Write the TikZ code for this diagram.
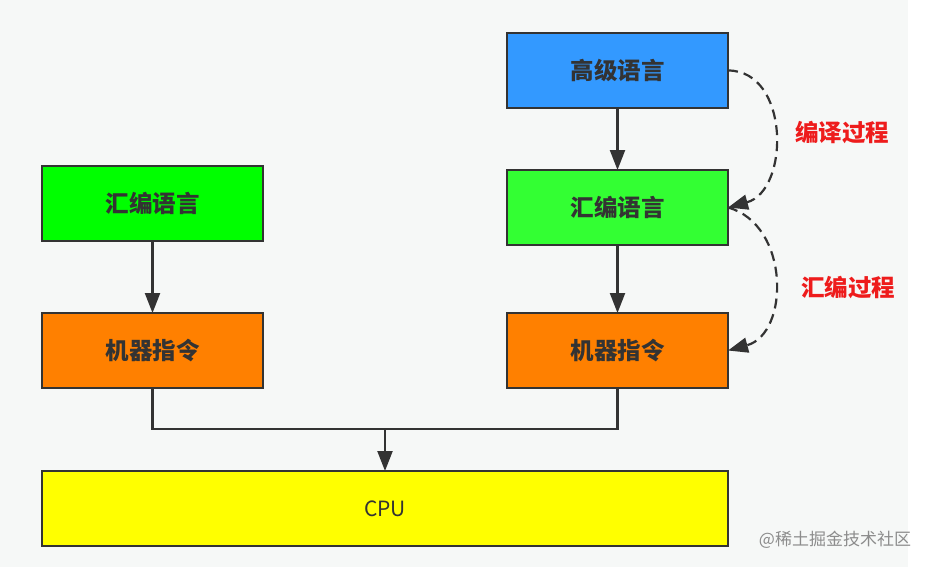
\documentclass[tikz,border=0pt]{standalone}
\usepackage{fontspec}
\setmainfont{Noto Sans CJK SC}
\usetikzlibrary{positioning,arrows.meta}

\definecolor{bggray}{HTML}{F6F8F7}
\definecolor{linegray}{HTML}{333333}
\definecolor{hlblue}{HTML}{3399FF}
\definecolor{asmgreenA}{HTML}{00FF00}
\definecolor{asmgreenB}{HTML}{33FF33}
\definecolor{mcorange}{HTML}{FF8000}
\definecolor{cpuyellow}{HTML}{FFFF00}
\definecolor{labelred}{HTML}{EE1C1C}

\begin{document}
\begin{tikzpicture}[x=1pt,y=1pt,node distance=62pt,
		box/.style={draw=linegray, line width=2.2pt, outer sep=0pt, inner sep=0pt,
			minimum width=221pt, minimum height=75pt, text=linegray,
			font=\fontsize{23.5}{26}\selectfont\bfseries},
		conn/.style={draw=linegray, line width=2.2pt, -{Triangle[length=20pt,width=15pt]}},
		bus/.style={draw=linegray, line width=2.2pt},
		proc/.style={text=labelred, font=\fontsize{23.5}{26}\selectfont\bfseries}]
		\fill[bggray] (0,0) rectangle (908,-567);
		\useasboundingbox (0,0) rectangle (933,-567);
		
		\node (h2) [box, fill=hlblue] at (617.5,-70.5) {高级语言};
		\node (a2) [box, fill=asmgreenB, below=of h2]      {汇编语言};
		\node (m2) [box, fill=mcorange,  below=68pt of a2] {机器指令};
		
		\node (m1) [box, fill=mcorange,  left=244pt of m2] {机器指令};
		\node (a1) [box, fill=asmgreenA, above=72pt of m1] {汇编语言};
		
		\node (cpu) [box, fill=cpuyellow, minimum width=686pt,
			font=\fontsize{21}{24}\selectfont,
			below right=83pt and 0pt of m1.south west] {CPU};
		\path (cpu.north) ++(0,42) coordinate (b);
		
		\node (p1) [proc] at (842,-132) {编译过程};
		\node (p2) [proc] at (848,-287) {汇编过程};
		\node (wm) [text=black!45, font=\fontsize{17}{20}\selectfont] at (835,-540) {@稀土掘金技术社区};
		
		\draw [conn] (h2) to (a2);
		\draw [conn] (a2) to (m2);
		\draw [conn] (a1) to (m1);
		
		\draw [bus] (m1.south) |- (b) -| (m2.south);
		\draw [conn] (b) to (cpu);
		
		\draw [conn, dash pattern=on 10pt off 6pt] (h2.east) .. controls +(62,0) and +(62,17) .. (a2.east);
		\draw [conn, dash pattern=on 10pt off 6pt] (a2.east) .. controls +(62,-17) and +(62,17) .. (m2.east);
	\end{tikzpicture}
\end{document}
